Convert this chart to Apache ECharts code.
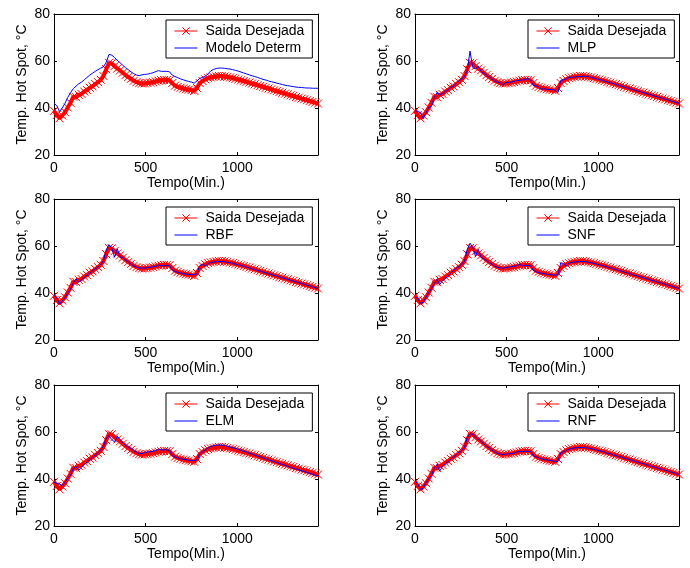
<!DOCTYPE html>
<html>
<head>
<meta charset="utf-8">
<title>Temp. Hot Spot</title>
<script src="https://cdn.jsdelivr.net/npm/echarts@6/dist/echarts.min.js"></script>
<style>
  html, body { margin: 0; padding: 0; background: #fff; }
  #chart { width: 690px; height: 568px; }
</style>
</head>
<body>
<div id="chart"></div>
<script>
// tempo em minutos (amostras a cada 15 min)
var tempo = [
  0, 15, 30, 45, 60, 75, 90, 105, 120, 135,
  150, 165, 180, 195, 210, 225, 240, 255, 270, 285,
  300, 315, 330, 345, 360, 375, 390, 405, 420, 435,
  450, 465, 480, 495, 510, 525, 540, 555, 570, 585,
  600, 615, 630, 645, 660, 675, 690, 705, 720, 735,
  750, 765, 780, 795, 810, 825, 840, 855, 870, 885,
  900, 915, 930, 945, 960, 975, 990, 1005, 1020, 1035,
  1050, 1065, 1080, 1095, 1110, 1125, 1140, 1155, 1170, 1185,
  1200, 1215, 1230, 1245, 1260, 1275, 1290, 1305, 1320, 1335,
  1350, 1365, 1380, 1395, 1410, 1425, 1440
];

var saidaDesejada = [
  38.8, 37.0, 35.6, 36.8, 38.2, 40.2, 42.2, 44.8, 44.6, 45.6,
  46.0, 47.0, 47.6, 48.6, 49.2, 50.2, 51.0, 52.0, 53.6, 56.5,
  59.2, 59.0, 57.8, 56.8, 56.0, 55.0, 54.0, 53.2, 52.4, 51.6,
  51.0, 50.6, 50.4, 50.5, 50.6, 50.8, 51.0, 51.3, 51.6, 51.8,
  51.9, 51.9, 51.8, 50.6, 49.5, 49.0, 48.6, 48.3, 48.0, 47.8,
  47.6, 47.3, 48.5, 50.6, 51.5, 52.2, 52.7, 53.0, 53.2, 53.4,
  53.6, 53.6, 53.4, 53.2, 53.0, 52.7, 52.4, 52.1, 51.8, 51.5,
  51.1, 50.8, 50.4, 50.1, 49.7, 49.4, 49.0, 48.6, 48.3, 47.9,
  47.5, 47.2, 46.8, 46.5, 46.1, 45.8, 45.4, 45.1, 44.7, 44.4,
  44.0, 43.7, 43.3, 43.0, 42.6, 42.3, 41.9
];

var modeloDeterm = [
  42.0, 41.0, 38.5, 40.0, 42.0, 44.5, 46.5, 48.2, 49.3, 50.3,
  51.0, 52.0, 53.0, 54.0, 54.8, 55.6, 56.3, 57.0, 57.6, 59.5,
  62.8, 62.5, 61.5, 60.3, 59.3, 58.2, 57.2, 56.3, 55.4, 54.6,
  54.0, 53.8, 54.1, 54.3, 54.4, 54.7, 55.0, 55.5, 55.9, 55.6,
  55.6, 55.6, 55.4, 54.0, 53.4, 52.9, 52.4, 52.0, 51.6, 51.3,
  51.0, 50.6, 51.5, 52.6, 53.0, 53.5, 54.5, 55.8, 56.4, 56.8,
  57.0, 57.0, 56.9, 56.7, 56.6, 56.3, 56.0, 55.7, 55.3, 54.9,
  54.5, 54.1, 53.7, 53.4, 53.0, 52.6, 52.2, 51.9, 51.5, 51.2,
  50.9, 50.6, 50.3, 50.0, 49.7, 49.5, 49.3, 49.1, 48.9, 48.8,
  48.7, 48.6, 48.5, 48.5, 48.4, 48.4, 48.4
];

var mlp = [
  38.8, 38.6, 37.8, 35.5, 38.0, 40.2, 40.8, 44.5, 46.6, 45.4,
  46.2, 47.0, 47.8, 48.7, 49.4, 50.4, 51.6, 52.4, 53.2, 56.0,
  64.2, 57.2, 56.6, 57.8, 55.6, 54.8, 54.0, 53.2, 52.3, 51.5,
  51.0, 50.6, 49.8, 50.8, 50.9, 51.0, 51.4, 51.7, 51.8, 52.0,
  52.0, 52.6, 51.8, 49.6, 49.4, 49.0, 48.0, 48.2, 47.9, 47.9,
  47.8, 47.6, 46.6, 51.8, 52.0, 52.4, 53.0, 53.1, 53.2, 53.3,
  53.4, 53.5, 53.5, 53.4, 53.0, 52.7, 52.4, 52.1, 51.8, 51.4,
  51.1, 50.7, 50.4, 50.0, 49.7, 49.3, 49.0, 48.6, 48.3, 47.9,
  47.6, 47.2, 46.9, 46.5, 46.2, 45.8, 45.5, 45.1, 44.8, 44.4,
  44.1, 43.7, 43.4, 43.0, 42.7, 42.3, 42.0
];

var rbf = [
  39.0, 38.0, 35.2, 36.6, 38.0, 40.0, 41.6, 44.2, 46.0, 44.6,
  45.6, 46.6, 47.6, 48.5, 49.4, 50.3, 51.0, 52.2, 53.8, 58.4,
  60.6, 59.2, 55.2, 58.8, 55.4, 55.0, 54.0, 53.2, 52.3, 51.5,
  51.0, 50.7, 50.6, 50.6, 50.8, 51.0, 51.2, 51.4, 51.9, 51.6,
  51.6, 51.6, 51.6, 49.8, 49.2, 48.8, 48.5, 48.2, 48.0, 47.9,
  47.8, 47.8, 48.2, 51.6, 52.2, 51.4, 52.6, 53.0, 53.2, 53.3,
  53.4, 53.4, 53.3, 53.1, 52.9, 52.6, 52.3, 52.0, 51.7, 51.4,
  51.0, 50.7, 50.3, 50.0, 49.6, 49.3, 48.9, 48.6, 48.2, 47.9,
  47.5, 47.2, 46.8, 46.5, 46.1, 45.8, 45.4, 45.1, 44.7, 44.4,
  44.0, 43.7, 43.3, 43.0, 42.6, 42.3, 41.9
];

var snf = [
  38.4, 37.8, 35.6, 36.0, 38.2, 40.2, 41.8, 44.0, 45.8, 43.6,
  45.2, 46.2, 47.2, 48.4, 49.6, 50.6, 51.2, 52.4, 53.4, 58.6,
  61.2, 59.4, 55.6, 58.6, 55.2, 54.6, 53.8, 53.0, 52.2, 51.4,
  50.9, 50.6, 50.6, 50.8, 51.0, 51.2, 51.4, 51.6, 52.2, 51.6,
  51.7, 51.8, 51.6, 49.6, 49.0, 48.7, 48.4, 48.2, 48.0, 47.8,
  47.7, 47.6, 47.8, 52.8, 52.6, 51.5, 52.8, 53.0, 53.2, 53.3,
  53.4, 53.4, 53.3, 53.1, 52.9, 52.6, 52.3, 52.0, 51.7, 51.4,
  51.0, 50.7, 50.3, 50.0, 49.6, 49.3, 48.9, 48.6, 48.2, 47.9,
  47.5, 47.2, 46.8, 46.5, 46.1, 45.8, 45.4, 45.1, 44.7, 44.4,
  44.0, 43.7, 43.3, 43.0, 42.6, 42.3, 41.9
];

var elm = [
  38.6, 38.2, 37.8, 37.2, 38.6, 40.4, 41.6, 44.4, 45.4, 43.8,
  45.0, 46.2, 47.2, 48.2, 49.2, 50.2, 51.2, 52.4, 54.0, 57.4,
  58.4, 56.8, 55.8, 58.2, 56.8, 55.4, 54.4, 53.6, 52.8, 52.0,
  51.4, 50.8, 50.8, 51.4, 51.5, 51.6, 51.8, 52.2, 52.6, 52.4,
  52.4, 52.4, 52.2, 50.0, 49.4, 49.0, 48.6, 48.4, 48.2, 48.0,
  47.9, 47.8, 48.2, 50.8, 51.6, 52.4, 53.2, 53.8, 54.2, 54.4,
  54.5, 54.4, 54.2, 53.9, 53.6, 53.3, 53.0, 52.6, 52.2, 51.8,
  51.4, 51.0, 50.6, 50.2, 49.8, 49.4, 49.0, 48.6, 48.2, 47.8,
  47.4, 47.0, 46.6, 46.2, 45.8, 45.4, 45.0, 44.6, 44.2, 43.9,
  43.5, 43.2, 42.8, 42.4, 42.0, 41.6, 41.2
];

var rnf = [
  39.2, 38.0, 35.4, 36.2, 38.4, 40.2, 41.4, 44.6, 46.2, 43.4,
  45.4, 46.4, 47.4, 48.4, 49.4, 50.4, 51.4, 52.2, 53.4, 57.6,
  59.2, 59.0, 57.8, 57.0, 56.0, 55.0, 54.0, 53.2, 52.3, 51.5,
  50.9, 50.6, 50.4, 50.6, 50.7, 50.8, 51.0, 51.4, 51.8, 51.6,
  51.8, 51.8, 51.7, 50.0, 49.4, 49.0, 48.6, 48.3, 48.1, 47.9,
  47.7, 47.4, 47.8, 51.2, 51.6, 52.2, 52.7, 53.0, 53.2, 53.3,
  53.4, 53.4, 53.3, 53.1, 52.9, 52.6, 52.3, 52.0, 51.7, 51.4,
  50.8, 50.8, 50.2, 50.1, 49.4, 49.5, 48.8, 48.6, 48.2, 47.9,
  47.5, 47.2, 46.8, 46.5, 46.1, 45.8, 45.4, 45.1, 44.7, 44.4,
  44.0, 43.7, 43.3, 43.0, 42.6, 42.3, 41.9
];

var xTicks = [0, 500, 1000];
var yTicks = [20, 40, 60, 80];

var paineis = [
  { nome: 'Modelo Determ', dados: modeloDeterm },
  { nome: 'MLP', dados: mlp },
  { nome: 'RBF', dados: rbf },
  { nome: 'SNF', dados: snf },
  { nome: 'ELM', dados: elm },
  { nome: 'RNF', dados: rnf }
];

var fonte = '"Liberation Sans", Arial, Helvetica, sans-serif';
var colLeft = [54, 415];
var rowTop = [14, 199, 385];
var legTop = [20, 207, 393];
var legLeft = [166, 528];

function pares(ys) {
  return tempo.map(function (t, i) { return [t, ys[i]]; });
}

var grid = [], xAxis = [], yAxis = [], legend = [], series = [];

paineis.forEach(function (p, k) {
  var col = k % 2, row = Math.floor(k / 2);
  grid.push({ left: colLeft[col], top: rowTop[row], width: 264, height: 141 });

  var xBase = {
    gridIndex: k, type: 'value', min: 0, max: 1440, interval: 500,
    axisLine: { show: true, onZero: false, lineStyle: { color: '#000', width: 1 } },
    axisTick: { show: true, inside: true, length: 3, lineStyle: { color: '#000' } },
    splitLine: { show: false }
  };
  xAxis.push(Object.assign({}, xBase, {
    position: 'bottom',
    name: 'Tempo(Min.)', nameLocation: 'middle', nameGap: 21,
    nameTextStyle: { color: '#000', fontSize: 14, fontFamily: fonte },
    axisLabel: {
      color: '#000', fontSize: 14, fontFamily: fonte, margin: 6,
      formatter: function (v) { return xTicks.indexOf(v) >= 0 ? String(v) : ''; }
    }
  }));
  xAxis.push(Object.assign({}, xBase, { position: 'top', axisLabel: { show: false } }));

  var yBase = {
    gridIndex: k, type: 'value', min: 20, max: 80, interval: 20,
    axisLine: { show: true, onZero: false, lineStyle: { color: '#000', width: 1 } },
    axisTick: { show: true, inside: true, length: 3, lineStyle: { color: '#000' } },
    splitLine: { show: false }
  };
  yAxis.push(Object.assign({}, yBase, {
    position: 'left',
    name: 'Temp. Hot Spot, °C', nameLocation: 'middle', nameGap: 25,
    nameTextStyle: { color: '#000', fontSize: 14, fontFamily: fonte },
    axisLabel: {
      color: '#000', fontSize: 14, fontFamily: fonte, margin: 4,
      formatter: function (v) { return yTicks.indexOf(v) >= 0 ? String(v) : ''; }
    }
  }));
  yAxis.push(Object.assign({}, yBase, { position: 'right', axisLabel: { show: false } }));

  legend.push({
    left: legLeft[col], top: legTop[row], orient: 'vertical',
    selectedMode: false,
    backgroundColor: '#fff', borderColor: '#000', borderWidth: 1,
    padding: [4, 8, 3, 8], itemGap: 3, itemWidth: 23, itemHeight: 9,
    lineStyle: { width: 1 },
    textStyle: { color: '#000', fontSize: 14, fontFamily: fonte, padding: [0, 0, 0, 3] },
    data: [
      { name: 'Saida Desejada', itemStyle: { color: '#ff0000', borderColor: '#ff0000', borderWidth: 1 } },
      { name: p.nome, itemStyle: { opacity: 0 } }
    ]
  });

  // curva medida: banda densa de marcadores "x"
  series.push({
    name: 'Saida Desejada', type: 'line',
    xAxisIndex: 2 * k, yAxisIndex: 2 * k,
    data: pares(saidaDesejada),
    symbol: 'path://M0,0L10,10M10,0L0,10', symbolSize: 8, showAllSymbol: true,
    lineStyle: { color: '#ff0000', width: 4 },
    itemStyle: { color: '#ff0000', borderColor: '#ff0000', borderWidth: 1 },
    z: 2, silent: true
  });
  series.push({
    name: p.nome, type: 'line',
    xAxisIndex: 2 * k, yAxisIndex: 2 * k,
    data: pares(p.dados),
    symbol: 'none',
    lineStyle: { color: '#0000ff', width: 1 },
    itemStyle: { color: '#0000ff' },
    z: 3, silent: true
  });
});

var chart = echarts.init(document.getElementById('chart'));
chart.setOption({
  animation: false,
  backgroundColor: '#fff',
  grid: grid,
  xAxis: xAxis,
  yAxis: yAxis,
  legend: legend,
  series: series
});
</script>
</body>
</html>
